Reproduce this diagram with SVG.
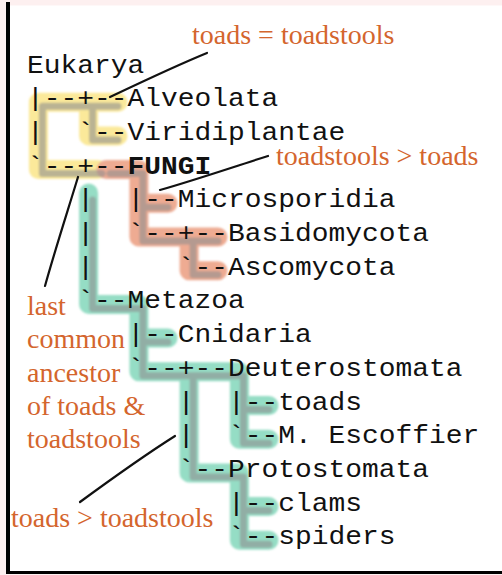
<svg xmlns="http://www.w3.org/2000/svg" width="502" height="575" viewBox="0 0 502 575">
<defs>
<filter id="soft" x="-5%" y="-5%" width="110%" height="110%"><feGaussianBlur stdDeviation="1.3"/></filter>
</defs>
<style>
.m{font-family:"Liberation Mono","DejaVu Sans Mono",monospace;font-size:25px;fill:#111}
.b{font-weight:bold}
.o{font-family:"Liberation Serif","DejaVu Serif",serif;font-size:28px;fill:#d4652d}
.band{fill:none;stroke-width:19;stroke-linecap:round;stroke-linejoin:round}
.sh{fill:none;stroke:#8f8f8f;stroke-width:7;stroke-linecap:round;stroke-linejoin:round;opacity:0.6}
.ptr{fill:none;stroke:#111;stroke-width:2.2;stroke-linecap:round}
</style>
<rect x="0" y="0" width="502" height="575" fill="#fdf0f0"/>
<rect x="10" y="5.5" width="492" height="566" fill="#ffffff"/>
<rect x="6" y="2" width="4" height="572" fill="#000"/>
<rect x="6" y="571" width="496" height="3" fill="#000"/>

<g id="clade-highlights" filter="url(#soft)">
  <g transform="translate(3,3)">
    <path class="band" stroke="#fbe99a" d="M115 99.2H35.4V166.6H95M85.6 99.2V132.9H115"/>
    <path class="band" stroke="#eeab92" d="M103 166.6H135.9V234H215M135.9 200.3H165M186.1 234V267.7H215"/>
    <path class="band" stroke="#95ddc5" d="M85.6 190V301.4H135.9V368.8H236.4V436.2H266M135.9 335.1H165M186.1 368.8V469.9H236.4V537.3H266M236.4 402.5H266M236.4 503.6H266"/>
  </g>
  <g transform="translate(7,7)">
    <path class="sh" d="M111 99.2H35.4V166.6H95M85.6 99.2V132.9H111"/>
    <path class="sh" d="M103 166.6H135.9V234H211M135.9 200.3H161M186.1 234V267.7H211"/>
    <path class="sh" d="M85.6 193V301.4H135.9V368.8H236.4V436.2H262M135.9 335.1H161M186.1 368.8V469.9H236.4V537.3H262M236.4 402.5H262M236.4 503.6H262"/>
  </g>
</g>

<g id="connectors">
  <text class="m" x="27" y="106.2" textLength="100.5" lengthAdjust="spacingAndGlyphs">|--+--</text>
  <text class="m" x="27" y="139.9" textLength="16.75" lengthAdjust="spacingAndGlyphs">|</text>
  <text class="m" x="77.25" y="139.9" textLength="50.25" lengthAdjust="spacingAndGlyphs">`--</text>
  <text class="m" x="27" y="173.6" textLength="100.5" lengthAdjust="spacingAndGlyphs">`--+--</text>
  <text class="m" x="77.25" y="207.3" textLength="16.75" lengthAdjust="spacingAndGlyphs">|</text>
  <text class="m" x="127.5" y="207.3" textLength="50.25" lengthAdjust="spacingAndGlyphs">|--</text>
  <text class="m" x="77.25" y="241" textLength="16.75" lengthAdjust="spacingAndGlyphs">|</text>
  <text class="m" x="127.5" y="241" textLength="100.5" lengthAdjust="spacingAndGlyphs">`--+--</text>
  <text class="m" x="77.25" y="274.7" textLength="16.75" lengthAdjust="spacingAndGlyphs">|</text>
  <text class="m" x="177.75" y="274.7" textLength="50.25" lengthAdjust="spacingAndGlyphs">`--</text>
  <text class="m" x="77.25" y="308.4" textLength="50.25" lengthAdjust="spacingAndGlyphs">`--</text>
  <text class="m" x="127.5" y="342.1" textLength="50.25" lengthAdjust="spacingAndGlyphs">|--</text>
  <text class="m" x="127.5" y="375.8" textLength="100.5" lengthAdjust="spacingAndGlyphs">`--+--</text>
  <text class="m" x="177.75" y="409.5" textLength="16.75" lengthAdjust="spacingAndGlyphs">|</text>
  <text class="m" x="228" y="409.5" textLength="50.25" lengthAdjust="spacingAndGlyphs">|--</text>
  <text class="m" x="177.75" y="443.2" textLength="16.75" lengthAdjust="spacingAndGlyphs">|</text>
  <text class="m" x="228" y="443.2" textLength="50.25" lengthAdjust="spacingAndGlyphs">`--</text>
  <text class="m" x="177.75" y="476.9" textLength="50.25" lengthAdjust="spacingAndGlyphs">`--</text>
  <text class="m" x="228" y="510.6" textLength="50.25" lengthAdjust="spacingAndGlyphs">|--</text>
  <text class="m" x="228" y="544.3" textLength="50.25" lengthAdjust="spacingAndGlyphs">`--</text>
  <path class="ptr" d="M207 53C180 64 150 78 110 97"/>
  <path class="ptr" d="M268 156C230 168 195 180 160 190"/>
  <path class="ptr" d="M78 177C68 210 55 250 45 286"/>
  <path class="ptr" d="M175 436C145 455 110 480 80 502"/>
</g>

<g id="node-eukarya"><text class="m" x="27" y="72.5" textLength="117.25" lengthAdjust="spacingAndGlyphs">Eukarya</text></g>
<g id="node-alveolata"><text class="m" x="127.5" y="106.2" textLength="150.75" lengthAdjust="spacingAndGlyphs">Alveolata</text></g>
<g id="node-viridiplantae"><text class="m" x="127.5" y="139.9" textLength="217.75" lengthAdjust="spacingAndGlyphs">Viridiplantae</text></g>
<g id="node-fungi"><text class="m b" x="127.5" y="173.6" textLength="83.75" lengthAdjust="spacingAndGlyphs">FUNGI</text></g>
<g id="node-microsporidia"><text class="m" x="177.75" y="207.3" textLength="217.75" lengthAdjust="spacingAndGlyphs">Microsporidia</text></g>
<g id="node-basidomycota"><text class="m" x="228" y="241" textLength="201" lengthAdjust="spacingAndGlyphs">Basidomycota</text></g>
<g id="node-ascomycota"><text class="m" x="228" y="274.7" textLength="167.5" lengthAdjust="spacingAndGlyphs">Ascomycota</text></g>
<g id="node-metazoa"><text class="m" x="127.5" y="308.4" textLength="117.25" lengthAdjust="spacingAndGlyphs">Metazoa</text></g>
<g id="node-cnidaria"><text class="m" x="177.75" y="342.1" textLength="134" lengthAdjust="spacingAndGlyphs">Cnidaria</text></g>
<g id="node-deuterostomata"><text class="m" x="228" y="375.8" textLength="234.5" lengthAdjust="spacingAndGlyphs">Deuterostomata</text></g>
<g id="node-toads"><text class="m" x="278.25" y="409.5" textLength="83.75" lengthAdjust="spacingAndGlyphs">toads</text></g>
<g id="node-escoffier"><text class="m" x="278.25" y="443.2" textLength="201" lengthAdjust="spacingAndGlyphs">M. Escoffier</text></g>
<g id="node-protostomata"><text class="m" x="228" y="476.9" textLength="201" lengthAdjust="spacingAndGlyphs">Protostomata</text></g>
<g id="node-clams"><text class="m" x="278.25" y="510.6" textLength="83.75" lengthAdjust="spacingAndGlyphs">clams</text></g>
<g id="node-spiders"><text class="m" x="278.25" y="544.3" textLength="117.25" lengthAdjust="spacingAndGlyphs">spiders</text></g>

<g id="note-equal"><text class="o" x="192" y="44">toads = toadstools</text></g>
<g id="note-fungi"><text class="o" x="276" y="165">toadstools &gt; toads</text></g>
<g id="note-lca">
  <text class="o" x="27" y="315">last</text>
  <text class="o" x="27" y="348">common</text>
  <text class="o" x="27" y="382">ancestor</text>
  <text class="o" x="27" y="415">of toads &amp;</text>
  <text class="o" x="27" y="448">toadstools</text>
</g>
<g id="note-metazoa"><text class="o" x="11" y="527">toads &gt; toadstools</text></g>
</svg>
